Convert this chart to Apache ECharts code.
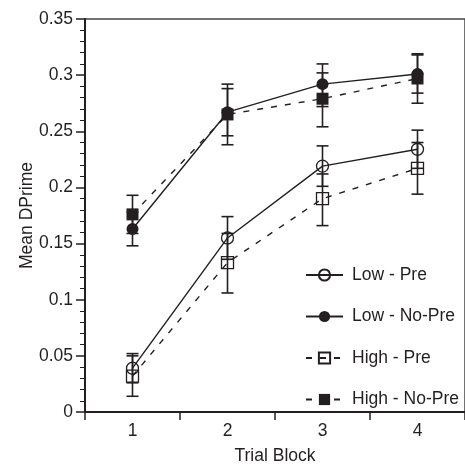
<!DOCTYPE html>
<html>
<head>
<meta charset="utf-8">
<script src="https://cdn.jsdelivr.net/npm/echarts@6/dist/echarts.min.js"></script>
<style>html,body{margin:0;padding:0;background:#fff}#c{width:465px;height:470px}</style>
</head>
<body>
<div id="c"></div>
<script>
var categories = ['1', '2', '3', '4'];
var yTicks = [0, 0.05, 0.1, 0.15, 0.2, 0.25, 0.3, 0.35];

var lowPre     = [0.039, 0.155, 0.219, 0.234];
var lowPreHi   = [0.052, 0.174, 0.237, 0.251];
var lowPreLo   = [0.026, 0.136, 0.201, 0.217];

var lowNoPre   = [0.163, 0.267, 0.292, 0.301];
var lowNoPreHi = [0.178, 0.288, 0.310, 0.318];
var lowNoPreLo = [0.148, 0.246, 0.272, 0.284];

var highPre    = [0.032, 0.133, 0.190, 0.217];
var highPreHi  = [0.050, 0.159, 0.212, 0.240];
var highPreLo  = [0.014, 0.106, 0.166, 0.194];

var highNoPre   = [0.176, 0.265, 0.279, 0.297];
var highNoPreHi = [0.193, 0.292, 0.302, 0.319];
var highNoPreLo = [0.159, 0.238, 0.254, 0.275];

var INK = '#231f20';
var FONT = 'Liberation Sans';

function errData(lo, hi) {
  return lo.map(function (v, i) { return [i, v, hi[i]]; });
}
function errSeries(lo, hi) {
  return {
    type: 'custom',
    silent: true,
    z: 1,
    data: errData(lo, hi),
    renderItem: function (params, api) {
      var x = api.value(0);
      var pLo = api.coord([x, api.value(1)]);
      var pHi = api.coord([x, api.value(2)]);
      var w = 6;
      var st = { stroke: INK, lineWidth: 1.6 };
      return {
        type: 'group',
        children: [
          { type: 'line', shape: { x1: pLo[0], y1: pLo[1], x2: pHi[0], y2: pHi[1] }, style: st },
          { type: 'line', shape: { x1: pLo[0] - w, y1: pLo[1], x2: pLo[0] + w, y2: pLo[1] }, style: st },
          { type: 'line', shape: { x1: pHi[0] - w, y1: pHi[1], x2: pHi[0] + w, y2: pHi[1] }, style: st }
        ]
      };
    }
  };
}
function lineSeries(name, data, symbol, filled, dashed) {
  return {
    name: name,
    type: 'line',
    data: data,
    symbol: symbol,
    symbolSize: 12,
    z: 3,
    lineStyle: { color: INK, width: 1.4, type: dashed ? [6, 8] : 'solid' },
    itemStyle: { color: filled ? INK : 'rgba(255,255,255,0)', borderColor: INK, borderWidth: filled ? 0 : 1.3 }
  };
}

var chart = echarts.init(document.getElementById('c'), null, { renderer: 'canvas' });
chart.setOption({
  animation: false,
  backgroundColor: '#fff',
  textStyle: { fontFamily: FONT },
  grid: {
    left: 85, top: 19, right: -4, bottom: 48,
    show: true, borderColor: '#444', borderWidth: 1.5, backgroundColor: 'transparent'
  },
  legend: {
    orient: 'vertical',
    left: 300, top: 261,
    itemWidth: 37, itemHeight: 14, itemGap: 23.5,
    data: ['Low - Pre', 'Low - No-Pre', 'High - Pre', 'High - No-Pre'],
    textStyle: { fontFamily: FONT, fontSize: 17.5, color: INK, padding: [0, 0, 0, 4] }
  },
  xAxis: {
    type: 'category',
    data: categories,
    boundaryGap: true,
    name: 'Trial Block',
    nameLocation: 'middle',
    nameGap: 35,
    nameMoveOverlap: false,
    nameTextStyle: { fontFamily: FONT, fontSize: 17.5, color: INK },
    axisLine: { lineStyle: { color: INK, width: 2 } },
    axisTick: { show: true, alignWithLabel: false, length: 8, inside: false, lineStyle: { color: INK, width: 1.5 } },
    axisLabel: { fontFamily: FONT, fontSize: 17.5, color: INK, margin: 10 },
    splitLine: { show: false }
  },
  yAxis: {
    type: 'value',
    min: 0, max: 0.35, interval: 0.05,
    name: 'Mean DPrime',
    nameLocation: 'middle',
    nameGap: 49,
    nameMoveOverlap: false,
    nameTextStyle: { fontFamily: FONT, fontSize: 17.5, color: INK },
    axisLine: { show: true, lineStyle: { color: INK, width: 2 } },
    axisTick: { show: true, length: 9, lineStyle: { color: INK, width: 1.5 } },
    minorTick: { show: true, splitNumber: 5, length: 5, lineStyle: { color: INK, width: 1 } },
    axisLabel: {
      fontFamily: FONT, fontSize: 17.5, color: INK, margin: 12,
      formatter: function (v) {
        for (var i = 0; i < yTicks.length; i++) {
          if (Math.abs(yTicks[i] - v) < 1e-9) return String(yTicks[i]);
        }
        return '';
      }
    },
    splitLine: { show: false }
  },
  series: [
    errSeries(lowPreLo, lowPreHi),
    errSeries(lowNoPreLo, lowNoPreHi),
    errSeries(highPreLo, highPreHi),
    errSeries(highNoPreLo, highNoPreHi),
    lineSeries('High - No-Pre', highNoPre, 'rect', true, true),
    lineSeries('High - Pre', highPre, 'rect', false, true),
    lineSeries('Low - No-Pre', lowNoPre, 'circle', true, false),
    lineSeries('Low - Pre', lowPre, 'circle', false, false)
  ]
});
</script>
</body>
</html>
